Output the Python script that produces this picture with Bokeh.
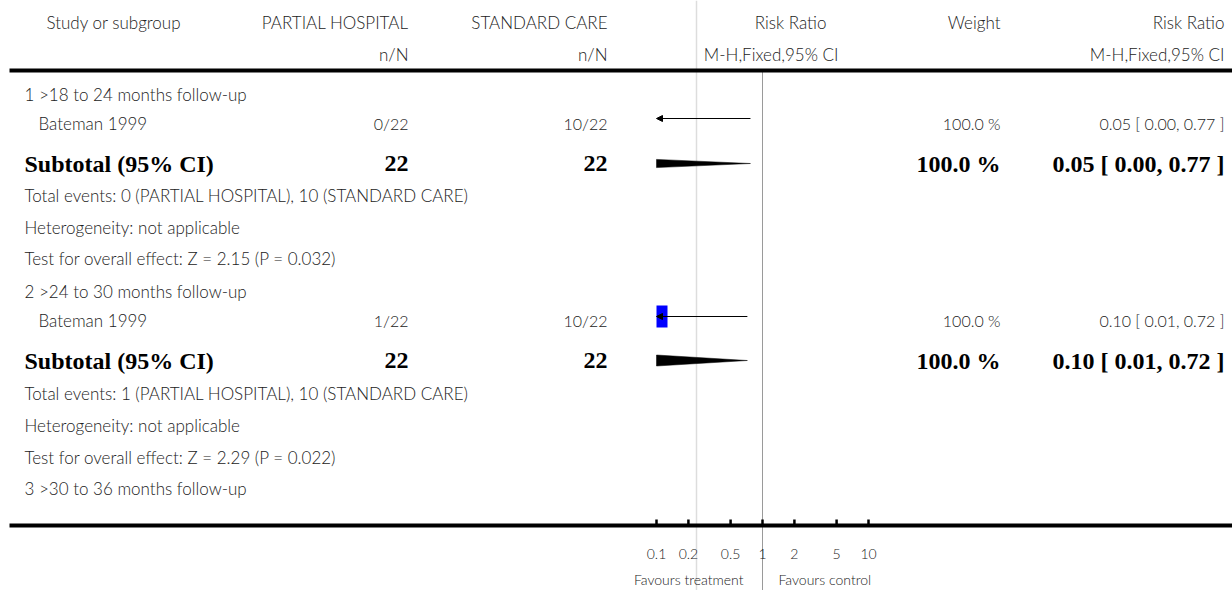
import math

from bokeh.core.properties import value
from bokeh.embed import file_html
from bokeh.models import Arrow, ColumnDataSource, LogScale, NormalHead, Range1d
from bokeh.plotting import figure
from bokeh.resources import INLINE

# ---------------------------------------------------------------- data
treat_label = "PARTIAL HOSPITAL"
ctrl_label = "STANDARD CARE"
subgroups = [
    "1 >18 to 24 months follow-up",
    "2 >24 to 30 months follow-up",
    "3 >30 to 36 months follow-up",
]
study_names = ["Bateman 1999", "Bateman 1999"]
treat_events = [0, 1]
treat_totals = [22, 22]
ctrl_events = [10, 10]
ctrl_totals = [22, 22]
risk_ratios = [0.05, 0.10]
ci_lower = [0.00, 0.01]
ci_upper = [0.77, 0.72]
weights = [100.0, 100.0]
z_values = [2.15, 2.29]
p_values = [0.032, 0.022]
tick_values = [0.1, 0.2, 0.5, 1, 2, 5, 10]
tick_labels = ["0.1", "0.2", "0.5", "1", "2", "5", "10"]

# ---------------------------------------------------------------- layout
W, H = 1232, 590
NULL_X = 762          # pixel column of RR = 1
PX_PER_DECADE = 106   # width of one decade on the forest axis
PLOT_MIN, PLOT_MAX = 0.1, 10.0
SQUARE_HALF = 11      # half side of a 100 % weight square (px)
DIAMOND_HALF = 5.5    # half height of a pooled diamond (px)

LIGHT = value("Lato Light")
SERIF = value("Liberation Serif")
TXT = "#222222"
FS = "17px"           # running text
FS_NUM = "16px"       # numeric cells
FS_BOLD = "24px"      # subtotal rows
FS_AXIS = "14px"

# rows (pixels from the top)
Y_HEAD1, Y_HEAD2, Y_RULE_TOP = 22, 54, 70
Y_GROUP = [94, 291, 488]
Y_STUDY_TXT = [123, 320]
Y_STUDY_MARK = [118, 316]
Y_SUB = [163, 360]
Y_EVENTS = [195, 393]
Y_HET = [227, 425]
Y_TEST = [258, 457]
Y_RULE_BOTTOM = 525
Y_TICKLAB = 553
Y_FAVOURS = 579

# columns (pixels from the left)
X_LEFT = 24
X_STUDY = 38
X_STUDY_HEAD = 46
X_TREAT = 408
X_CTRL = 607
X_RR_HEAD1 = 826
X_RR_HEAD2 = 838
X_WEIGHT = 1000
X_RIGHT = 1224
X_RULE = 9
DIVIDER_X = 696

p = figure(
    width=W, height=H,
    x_range=Range1d(0, W), y_range=Range1d(H, 0),
    output_backend="svg", toolbar_location=None,
    min_border=0, min_border_left=0, min_border_right=0,
    min_border_top=0, min_border_bottom=0,
)
p.xaxis.visible = False
p.yaxis.visible = False
p.grid.visible = False
p.outline_line_color = None
p.background_fill_color = "white"
p.border_fill_color = "white"

# log-scaled range for the forest plot, aligned with the pixel columns
p.extra_x_ranges = {"rr": Range1d(10 ** (-NULL_X / PX_PER_DECADE),
                                  10 ** ((W - NULL_X) / PX_PER_DECADE))}
p.extra_x_scales = {"rr": LogScale()}


def txt(xs, ys, texts, align="left", font=LIGHT, size=FS, style="normal",
        color=TXT, x_offset=0, range_name="default"):
    src = ColumnDataSource(dict(x=list(xs), y=list(ys), t=list(texts)))
    p.text(x="x", y="y", text="t", source=src, text_align=align,
           text_baseline="middle", text_font=font, text_font_size=size,
           text_font_style=style, text_color=color, x_offset=x_offset,
           x_range_name=range_name)


# guide lines
p.segment(x0=[DIVIDER_X], y0=[0], x1=[DIVIDER_X], y1=[H],
          line_color="#dddddd", line_width=1.5)
p.segment(x0=[1], y0=[Y_RULE_TOP], x1=[1], y1=[H], line_color="#9a9a9a",
          line_width=1, x_range_name="rr")

# rules
p.segment(x0=[X_RULE, X_RULE], y0=[Y_RULE_TOP, Y_RULE_BOTTOM], x1=[W, W],
          y1=[Y_RULE_TOP, Y_RULE_BOTTOM], line_color="black", line_width=4)

# header
txt([X_STUDY_HEAD], [Y_HEAD1], ["Study or subgroup"])
txt([X_TREAT, X_CTRL, X_RR_HEAD1, X_WEIGHT, X_RIGHT], [Y_HEAD1] * 5,
    [treat_label, ctrl_label, "Risk Ratio", "Weight", "Risk Ratio"], align="right")
txt([X_TREAT, X_CTRL, X_RR_HEAD2, X_RIGHT], [Y_HEAD2] * 4,
    ["n/N", "n/N", "M-H,Fixed,95% CI", "M-H,Fixed,95% CI"], align="right")

txt([X_LEFT], [Y_GROUP[2]], [subgroups[2]])

lg = math.log10


def clip_polygon(pts, lo, hi):
    """Clip a polygon given in (log10 x, y) to lo <= x <= hi."""
    def clip(poly, inside, cross):
        out = []
        for i in range(len(poly)):
            a, b = poly[i - 1], poly[i]
            if inside(b):
                if not inside(a):
                    out.append(cross(a, b))
                out.append(b)
            elif inside(a):
                out.append(cross(a, b))
        return out

    def at(xc):
        def f(a, b):
            t = (xc - a[0]) / (b[0] - a[0])
            return (xc, a[1] + t * (b[1] - a[1]))
        return f

    pts = clip(pts, lambda q: q[0] >= lo, at(lo))
    pts = clip(pts, lambda q: q[0] <= hi, at(hi))
    return pts


head = NormalHead(size=6, fill_color="black", line_color="black", line_width=1)

for i in range(2):
    te, tn, ce, cn = treat_events[i], treat_totals[i], ctrl_events[i], ctrl_totals[i]
    rr, lo, hi, w = risk_ratios[i], ci_lower[i], ci_upper[i], weights[i]
    ci_txt = f"{rr:.2f} [ {lo:.2f}, {hi:.2f} ]"

    txt([X_LEFT], [Y_GROUP[i]], [subgroups[i]])

    # study row
    ys = Y_STUDY_TXT[i]
    txt([X_STUDY], [ys], [study_names[i]])
    txt([X_TREAT, X_CTRL, X_WEIGHT, X_RIGHT], [ys] * 4,
        [f"{te}/{tn}", f"{ce}/{cn}", f"{w:.1f} %", ci_txt], align="right",
        size=FS_NUM)

    ym = Y_STUDY_MARK[i]
    half = SQUARE_HALF * math.sqrt(w / 100.0)
    span = 10 ** (half / PX_PER_DECADE)
    sq_left, sq_right = max(rr / span, PLOT_MIN), min(rr * span, PLOT_MAX)
    if sq_right > sq_left:
        p.quad(left=[sq_left], right=[sq_right], top=[ym - half],
               bottom=[ym + half], fill_color="#0000ff", line_color=None,
               x_range_name="rr")
    x_from = max(lo, PLOT_MIN)
    x_to = min(hi, PLOT_MAX)
    if lo < PLOT_MIN:
        p.add_layout(Arrow(end=head, x_start=x_to, y_start=ym, x_end=PLOT_MIN,
                           y_end=ym, line_color="black", line_width=1,
                           x_range_name="rr"))
    else:
        p.segment(x0=[x_from], y0=[ym], x1=[x_to], y1=[ym], line_color="black",
                  line_width=1, x_range_name="rr")

    # subtotal row
    yb = Y_SUB[i]
    txt([X_LEFT], [yb], ["Subtotal (95% CI)"], font=SERIF, size=FS_BOLD,
        style="bold", color="black")
    txt([X_TREAT, X_CTRL, X_WEIGHT, X_RIGHT], [yb] * 4,
        [str(tn), str(cn), f"{w:.1f} %", ci_txt], align="right", font=SERIF,
        size=FS_BOLD, style="bold", color="black")
    lo_safe = max(lo, 1e-9)
    diamond = [(lg(lo_safe), yb), (lg(rr), yb - DIAMOND_HALF), (lg(hi), yb),
               (lg(rr), yb + DIAMOND_HALF)]
    poly = clip_polygon(diamond, lg(PLOT_MIN), lg(PLOT_MAX))
    p.patch(x=[10 ** q[0] for q in poly], y=[q[1] for q in poly],
            fill_color="black", line_color="black", line_width=0.5,
            x_range_name="rr")

    txt([X_LEFT], [Y_EVENTS[i]],
        [f"Total events: {te} ({treat_label}), {ce} ({ctrl_label})"])
    txt([X_LEFT], [Y_HET[i]], ["Heterogeneity: not applicable"])
    txt([X_LEFT], [Y_TEST[i]],
        [f"Test for overall effect: Z = {z_values[i]:.2f} (P = {p_values[i]:.3f})"])

# forest axis ticks and labels
p.segment(x0=tick_values, y0=[Y_RULE_BOTTOM - 6] * len(tick_values),
          x1=tick_values, y1=[Y_RULE_BOTTOM] * len(tick_values),
          line_color="black", line_width=2.5, x_range_name="rr")
txt(tick_values, [Y_TICKLAB] * len(tick_values), tick_labels, align="center",
    size=FS_AXIS, range_name="rr")
txt([1], [Y_FAVOURS], ["Favours treatment"], align="right", size=FS_AXIS,
    x_offset=-19, range_name="rr")
txt([1], [Y_FAVOURS], ["Favours control"], align="left", size=FS_AXIS,
    x_offset=16, range_name="rr")

open("out.html", "w").write(file_html(p, INLINE))
